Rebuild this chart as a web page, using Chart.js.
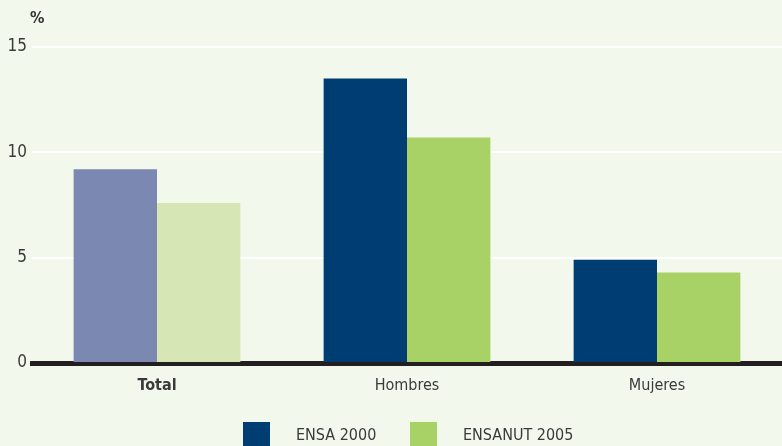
<!DOCTYPE html>
<html>
<head>
<meta charset="utf-8">
<script src="https://cdn.jsdelivr.net/npm/chart.js@4/dist/chart.umd.min.js"></script>
<style>
  html, body { margin:0; padding:0; background:#f3f8ec; overflow:hidden; }
  #wrap { position:relative; width:782px; height:446px; }
  .leg { position:absolute; top:422px; height:24px; display:flex; align-items:center;
         font-family:'Liberation Sans Narrow','DejaVu Sans Condensed',sans-serif; font-size:16px; color:#3a3a3a; }
  .leg i { display:inline-block; width:27px; height:24px; margin-right:26px; }
</style>
</head>
<body>
<div id="wrap">
  <canvas id="c"></canvas>
  <div class="leg" id="leg0" style="left:243px"><i></i><span></span></div>
  <div class="leg" id="leg1" style="left:410px"><i></i><span></span></div>
</div>
<script>
// data
const categories = ['Total', 'Hombres', 'Mujeres'];
const ensa2000 = [9.2, 13.5, 4.9];
const ensanut2005 = [7.6, 10.7, 4.3];
const seriesNames = ['ENSA 2000', 'ENSANUT 2005'];
const yTicks = [0, 5, 10, 15];

const FONT = "'Liberation Sans Narrow', 'DejaVu Sans Condensed', 'Roboto', sans-serif";
const DARK = '#003d73', GREEN = '#a8d166';
// the "Total" group is drawn faded
const darkCols = ['#7b88b2', DARK, DARK];
const greenCols = ['#d6e6b5', GREEN, GREEN];

// "%" unit label above the y axis
const unitLabel = {
  id: 'unitLabel',
  afterDraw(chart) {
    const ctx = chart.ctx;
    ctx.save();
    ctx.font = "bold 16px " + FONT;
    ctx.fillStyle = '#333';
    ctx.textBaseline = 'middle';
    ctx.fillText('%', 30, 19);
    ctx.restore();
  }
};

// html legend (boxes + names)
[DARK, GREEN].forEach((col, i) => {
  const el = document.getElementById('leg' + i);
  el.querySelector('i').style.background = col;
  el.querySelector('span').textContent = seriesNames[i];
});

new Chart(document.getElementById('c'), {
  type: 'bar',
  data: {
    labels: categories,
    datasets: [
      { label: seriesNames[0], data: ensa2000, backgroundColor: darkCols },
      { label: seriesNames[1], data: ensanut2005, backgroundColor: greenCols }
    ]
  },
  options: {
    responsive: true,
    maintainAspectRatio: false,
    animation: false,
    layout: { padding: { top: 47, right: 0, left: 0, bottom: 0 } },
    datasets: { bar: { categoryPercentage: 0.667, barPercentage: 1.0 } },
    scales: {
      x: {
        z: 1,
        afterFit: axis => { axis.height = 83; },
        grid: { display: false },
        border: { display: true, color: '#231f20', width: 5 },
        ticks: {
          color: '#3a3a3a',
          padding: 5,
          font: ctx => ({ family: FONT, size: 16, weight: ctx.index === 0 ? 'bold' : 'normal' })
        }
      },
      y: {
        min: 0, max: 15,
        afterBuildTicks: axis => { axis.ticks = yTicks.map(v => ({ value: v })); },
        afterFit: axis => { axis.width = 32; },
        border: { display: false },
        grid: {
          drawTicks: false,
          color: ctx => ctx.tick && ctx.tick.value === 0 ? 'rgba(0,0,0,0)' : '#ffffff',
          lineWidth: 2
        },
        ticks: { color: '#3a3a3a', padding: 5, font: { family: FONT, size: 17 } }
      }
    },
    plugins: {
      tooltip: { enabled: false },
      legend: { display: false }
    }
  },
  plugins: [unitLabel]
});
</script>
</body>
</html>
